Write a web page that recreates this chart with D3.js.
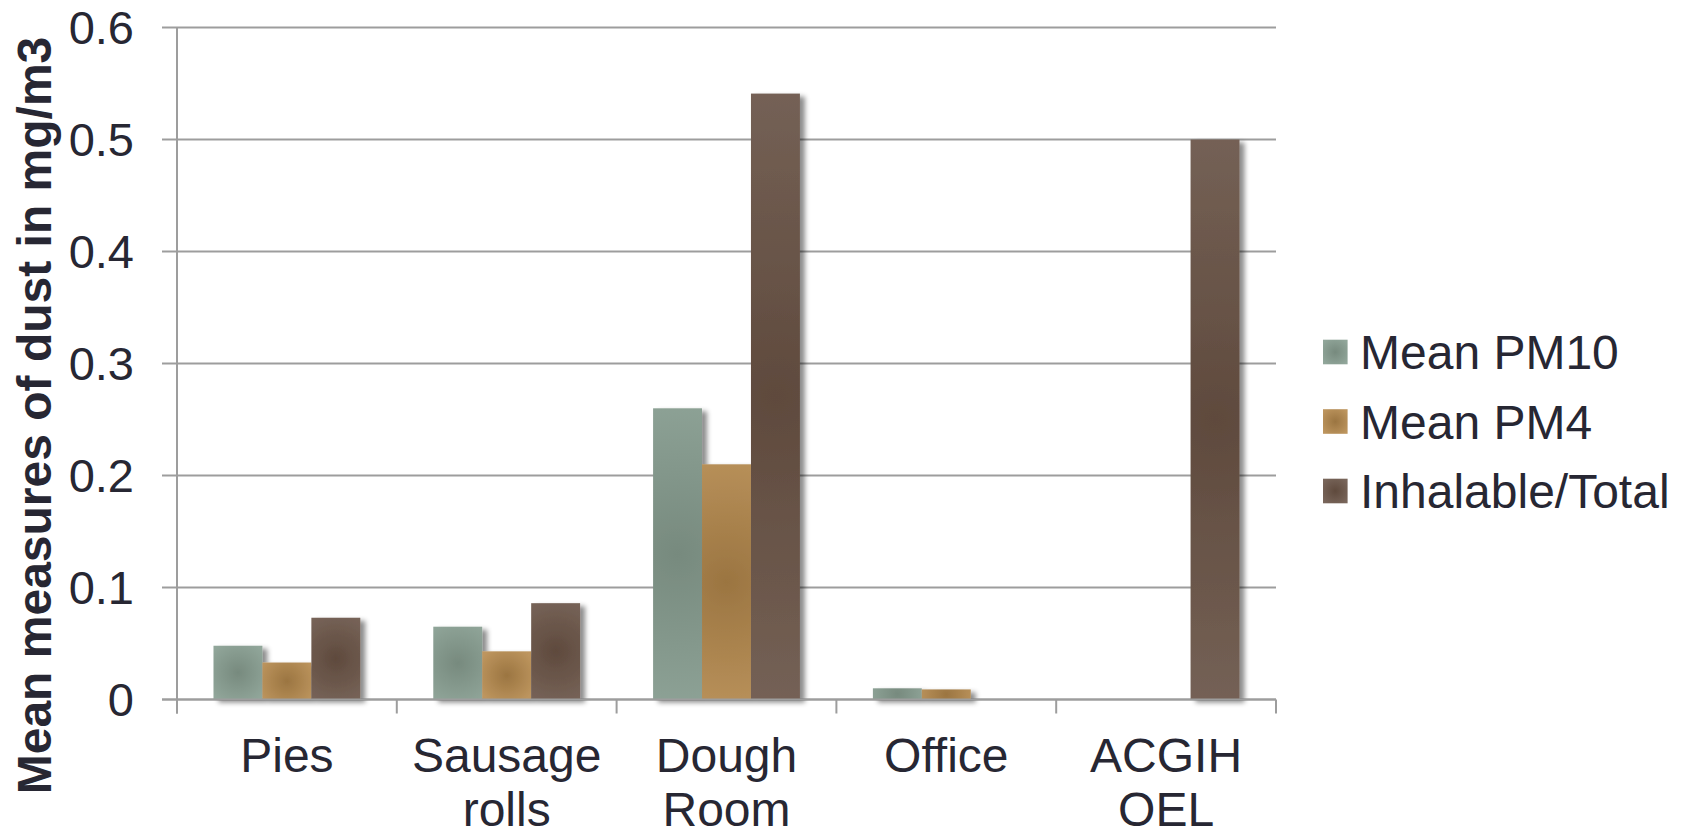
<!DOCTYPE html>
<html>
<head>
<meta charset="utf-8">
<script src="https://cdn.jsdelivr.net/npm/d3@7"></script>
<style>
  html, body { margin: 0; padding: 0; background: #ffffff; }
  svg { display: block; }
  text { font-family: "Liberation Sans", Arial, sans-serif; fill: #272733; }
</style>
</head>
<body>
<svg id="chart" width="1688" height="832"></svg>
<script>
// Dust measurements by work area (mg/m3)
const categories = [["Pies"], ["Sausage", "rolls"], ["Dough", "Room"], ["Office"], ["ACGIH", "OEL"]];
const seriesNames = ["Mean PM10", "Mean PM4", "Inhalable/Total"];
const meanPM10 = [0.048, 0.065, 0.26, 0.010, null];
const meanPM4 = [0.033, 0.043, 0.21, 0.009, null];
const inhalableTotal = [0.073, 0.086, 0.541, null, 0.5];
const yTicks = [0, 0.1, 0.2, 0.3, 0.4, 0.5, 0.6];
const yTitle = "Mean measures of dust in mg/m3";

// Edge / centre shades for each series' radial fill
const seriesShades = [
  { edge: "#91a69a", centre: "#778a7e" },
  { edge: "#bd955e", centre: "#9b7541" },
  { edge: "#79665b", centre: "#5f4a3d" }
];

const seriesValues = [meanPM10, meanPM4, inhalableTotal];
const catKeys = categories.map(c => c.join(" "));

const svg = d3.select("#chart");
const plot = { left: 177, right: 1276, top: 27.5, bottom: 699.5 };

const x = d3.scaleBand().domain(catKeys).range([plot.left, plot.right]).padding(0);
const bw = x.bandwidth();
const groupPad = bw * 0.166;
const xs = d3.scaleBand().domain(seriesNames).range([groupPad, bw - groupPad]).padding(0);
const y = d3.scaleLinear().domain([0, 0.6]).range([plot.bottom, plot.top]);

const defs = svg.append("defs");
const shadow = defs.append("filter").attr("id", "barShadow")
  .attr("x", "-20%").attr("y", "-5%").attr("width", "160%").attr("height", "115%");
shadow.append("feDropShadow")
  .attr("dx", 5).attr("dy", 3).attr("stdDeviation", 2.6)
  .attr("flood-color", "#000").attr("flood-opacity", 0.45);

// Gridlines with left tick stubs
svg.append("g").selectAll("line").data(yTicks).join("line")
  .attr("x1", plot.left - 15).attr("x2", plot.right)
  .attr("y1", d => y(d)).attr("y2", d => y(d))
  .attr("stroke", "#9d9d9d").attr("stroke-width", 2);

// Vertical axis line
svg.append("line")
  .attr("x1", plot.left).attr("x2", plot.left)
  .attr("y1", y(0.6)).attr("y2", plot.bottom + 14)
  .attr("stroke", "#9d9d9d").attr("stroke-width", 2);

// Y tick labels
svg.append("g").selectAll("text").data(yTicks).join("text")
  .attr("x", 134).attr("y", d => y(d)).attr("dy", "0.36em")
  .attr("text-anchor", "end").attr("font-size", 47)
  .text(d => d3.format("")(d));

// Y axis title
svg.append("text")
  .attr("transform", `translate(51, ${(plot.top + plot.bottom) / 2 + 52}) rotate(-90)`)
  .attr("text-anchor", "middle").attr("font-size", 48).attr("font-weight", "bold")
  .text(yTitle);

// Bars
const barData = [];
catKeys.forEach((c, ci) => {
  seriesNames.forEach((s, si) => {
    const v = seriesValues[si][ci];
    if (v !== null && v !== undefined) barData.push({ cat: c, series: s, si, value: v, id: `g${ci}_${si}` });
  });
});

barData.forEach(d => {
  const bx = x(d.cat) + xs(d.series);
  const by = y(d.value);
  const w = xs.bandwidth();
  const h = plot.bottom - by;
  const g = defs.append("radialGradient").attr("id", d.id)
    .attr("gradientUnits", "userSpaceOnUse")
    .attr("cx", bx + w / 2).attr("cy", by + h / 2)
    .attr("r", Math.max(w, h) * 0.62);
  g.append("stop").attr("offset", "0%").attr("stop-color", seriesShades[d.si].centre);
  g.append("stop").attr("offset", "100%").attr("stop-color", seriesShades[d.si].edge);
});

svg.append("g").attr("filter", "url(#barShadow)")
  .selectAll("rect").data(barData).join("rect")
  .attr("x", d => x(d.cat) + xs(d.series))
  .attr("y", d => y(d.value))
  .attr("width", xs.bandwidth())
  .attr("height", d => plot.bottom - y(d.value))
  .attr("fill", d => `url(#${d.id})`);

// Category axis line and ticks
svg.append("line")
  .attr("x1", plot.left - 15).attr("x2", plot.right)
  .attr("y1", plot.bottom).attr("y2", plot.bottom)
  .attr("stroke", "#9d9d9d").attr("stroke-width", 2);
const boundaries = catKeys.map(c => x(c)).concat([plot.right]);
svg.append("g").selectAll("line").data(boundaries).join("line")
  .attr("x1", d => d).attr("x2", d => d)
  .attr("y1", plot.bottom).attr("y2", plot.bottom + 14)
  .attr("stroke", "#9d9d9d").attr("stroke-width", 2);

// Category labels
const catLabels = svg.append("g").selectAll("text").data(categories).join("text")
  .attr("text-anchor", "middle").attr("font-size", 48)
  .attr("x", (d, i) => x(catKeys[i]) + bw / 2)
  .attr("y", 772);
catLabels.selectAll("tspan").data(d => d).join("tspan")
  .attr("x", function () { return d3.select(this.parentNode).attr("x"); })
  .attr("dy", (d, i) => i === 0 ? 0 : 54)
  .text(d => d);

// Legend
seriesNames.forEach((s, i) => {
  const lg = defs.append("radialGradient").attr("id", `leg${i}`)
    .attr("cx", "50%").attr("cy", "50%").attr("r", "62%");
  lg.append("stop").attr("offset", "0%").attr("stop-color", seriesShades[i].centre);
  lg.append("stop").attr("offset", "100%").attr("stop-color", seriesShades[i].edge);
});
const legend = svg.append("g").selectAll("g").data(seriesNames).join("g")
  .attr("transform", (d, i) => `translate(1323, ${352 + i * 69.5})`);
legend.append("rect")
  .attr("x", 0).attr("y", -12.3).attr("width", 24.6).attr("height", 24.6)
  .attr("fill", (d, i) => `url(#leg${i})`);
legend.append("text")
  .attr("x", 37).attr("y", 0).attr("dy", "0.36em")
  .attr("font-size", 48)
  .text(d => d);
</script>
</body>
</html>
